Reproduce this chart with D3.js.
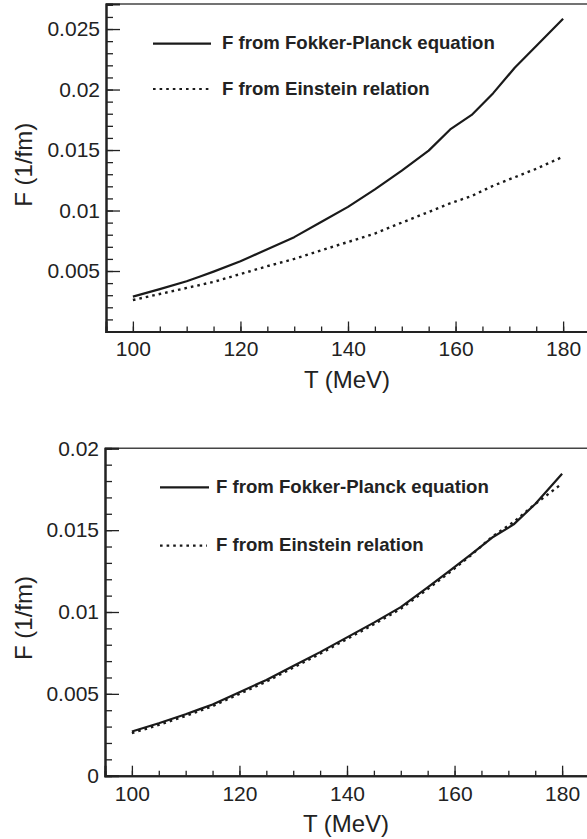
<!DOCTYPE html>
<html>
<head>
<meta charset="utf-8">
<script src="https://cdn.jsdelivr.net/npm/d3@7"></script>
<style>
  html, body { margin: 0; padding: 0; background: #fff; overflow: hidden; }
  svg { display: block; }
  text { font-family: "Liberation Sans", Arial, Helvetica, sans-serif; fill: #222; }
</style>
</head>
<body>
<svg id="chart" width="587" height="839"></svg>
<script>
// ---------------- data ----------------
const temperature = [100, 105, 110, 112.5, 115, 120, 125, 130, 135, 140, 145, 150, 155, 159, 163, 167, 171, 175, 180];

// Top panel (values in 1/fm)
const topFokkerPlanck = [0.00288, 0.0035, 0.00415, 0.00455, 0.00495, 0.0058, 0.0068, 0.0078, 0.00905, 0.0103, 0.01175, 0.0133, 0.01495, 0.0167, 0.0179, 0.0197, 0.0218, 0.0236, 0.02585];
const topEinstein      = [0.0026, 0.0031, 0.0036, 0.00385, 0.0041, 0.00475, 0.0054, 0.006, 0.0067, 0.0074, 0.0081, 0.009, 0.00988, 0.0106, 0.0112, 0.01205, 0.01275, 0.01345, 0.01445];

// Bottom panel
const bottomFokkerPlanck = [0.0027, 0.0032, 0.00375, 0.00405, 0.00435, 0.0051, 0.00585, 0.0067, 0.00755, 0.00845, 0.00935, 0.0103, 0.0115, 0.0125, 0.0135, 0.01455, 0.01535, 0.0166, 0.01845];
const bottomEinstein     = [0.0026, 0.0031, 0.00365, 0.00395, 0.00425, 0.005, 0.00575, 0.0066, 0.00745, 0.00835, 0.00925, 0.0102, 0.0114, 0.0124, 0.01345, 0.0146, 0.0155, 0.0166, 0.01785];

const seriesNames = ["F from Fokker-Planck equation", "F from Einstein relation"];
const xTickLabels = [100, 120, 140, 160, 180];
const topYTickLabels = [0.005, 0.01, 0.015, 0.02, 0.025];
const bottomYTickLabels = [0, 0.005, 0.01, 0.015, 0.02];
const xTitle = "T (MeV)";
const yTitle = "F (1/fm)";

// ---------------- drawing ----------------
const svg = d3.select("#chart");

function drawPanel(cfg) {
  const g = svg.append("g");
  const x = d3.scaleLinear().domain([95, 185]).range([cfg.left, cfg.right]);
  const y = d3.scaleLinear().domain(cfg.yDomain).range([cfg.bottom, cfg.top]);

  // frame top line
  g.append("line")
    .attr("x1", cfg.left).attr("x2", cfg.right)
    .attr("y1", cfg.top).attr("y2", cfg.top)
    .attr("stroke", "#444").attr("stroke-width", 1.5);

  // minor ticks
  const xMinor = d3.range(100, 185.01, 5);
  const yMinor = d3.range(1, Math.floor(cfg.yDomain[1] * 1000 + 1e-6) + 1).map(v => v / 1000);

  const xAxisMinor = d3.axisBottom(x).tickValues(xMinor).tickSize(-5).tickFormat("");
  const xAxisMajor = d3.axisBottom(x).tickValues(xTickLabels).tickSize(-10).tickFormat(d3.format("d"));
  const yAxisMinor = d3.axisLeft(y).tickValues(yMinor).tickSize(-7).tickFormat("");
  const yAxisMajor = d3.axisLeft(y).tickValues(cfg.yTicks).tickSize(-14)
                       .tickFormat(d => d === 0 ? "0" : d3.format("~g")(d));

  function style(sel) {
    sel.select(".domain").attr("stroke", "#222").attr("stroke-width", 2);
    sel.selectAll(".tick line").attr("stroke", "#222").attr("stroke-width", 1.3);
    sel.selectAll(".tick text").attr("font-size", 21).attr("fill", "#222")
       .attr("font-family", "Liberation Sans, Arial, sans-serif");
  }

  g.append("g").attr("transform", `translate(0,${cfg.bottom})`).call(xAxisMinor).call(style);
  const xa = g.append("g").attr("transform", `translate(0,${cfg.bottom})`).call(xAxisMajor).call(style);
  xa.selectAll(".tick text").attr("dy", "0.71em").attr("y", 10);
  g.append("g").attr("transform", `translate(${cfg.left},0)`).call(yAxisMinor).call(style);
  const ya = g.append("g").attr("transform", `translate(${cfg.left},0)`).call(yAxisMajor).call(style);
  ya.selectAll(".tick text").attr("x", -6);

  // axis titles
  g.append("text")
    .attr("x", (cfg.left + cfg.right) / 2 - 1)
    .attr("y", cfg.bottom + 56)
    .attr("text-anchor", "middle")
    .attr("font-size", 24)
    .text(xTitle);
  g.append("text")
    .attr("transform", `translate(32,${(cfg.top + cfg.bottom) / 2 + cfg.yTitleShift}) rotate(-90)`)
    .attr("text-anchor", "middle")
    .attr("font-size", 24)
    .text(yTitle);

  // lines
  const line = d3.line().x(d => x(d[0])).y(d => y(d[1]));
  const solidData = temperature.map((t, i) => [t, cfg.solid[i]]);
  const dotData = temperature.map((t, i) => [t, cfg.dotted[i]]);

  g.append("path").datum(dotData)
    .attr("d", line).attr("fill", "none")
    .attr("stroke", "#1a1a1a").attr("stroke-width", 2.4)
    .attr("stroke-dasharray", "2.6,4");
  g.append("path").datum(solidData)
    .attr("d", line).attr("fill", "none")
    .attr("stroke", "#1a1a1a").attr("stroke-width", 2.2)
    .attr("stroke-linejoin", "round");

  // legend
  const lg = cfg.legend;
  g.append("line")
    .attr("x1", lg.x0).attr("x2", lg.x1).attr("y1", lg.y[0]).attr("y2", lg.y[0])
    .attr("stroke", "#1a1a1a").attr("stroke-width", 2.2);
  g.append("line")
    .attr("x1", lg.x0).attr("x2", lg.x1 - 2).attr("y1", lg.y[1]).attr("y2", lg.y[1])
    .attr("stroke", "#1a1a1a").attr("stroke-width", 2.2)
    .attr("stroke-dasharray", "2.6,4");
  seriesNames.forEach((name, i) => {
    g.append("text")
      .attr("x", lg.tx)
      .attr("y", lg.y[i] + 5.5)
      .attr("font-size", 18.6)
      .attr("font-weight", "bold")
      .text(name);
  });
}

drawPanel({
  left: 106, right: 590, top: 4, bottom: 331.5,
  yDomain: [0, 0.02707], yTicks: topYTickLabels,
  solid: topFokkerPlanck, dotted: topEinstein,
  yTitleShift: -3,
  legend: { x0: 153, x1: 211, tx: 222, y: [43.7, 89] }
});

drawPanel({
  left: 105, right: 589, top: 448.3, bottom: 775.7,
  yDomain: [0, 0.02], yTicks: bottomYTickLabels,
  solid: bottomFokkerPlanck, dotted: bottomEinstein,
  yTitleShift: 6,
  legend: { x0: 160, x1: 209, tx: 216, y: [487.3, 545.7] }
});
</script>
</body>
</html>
